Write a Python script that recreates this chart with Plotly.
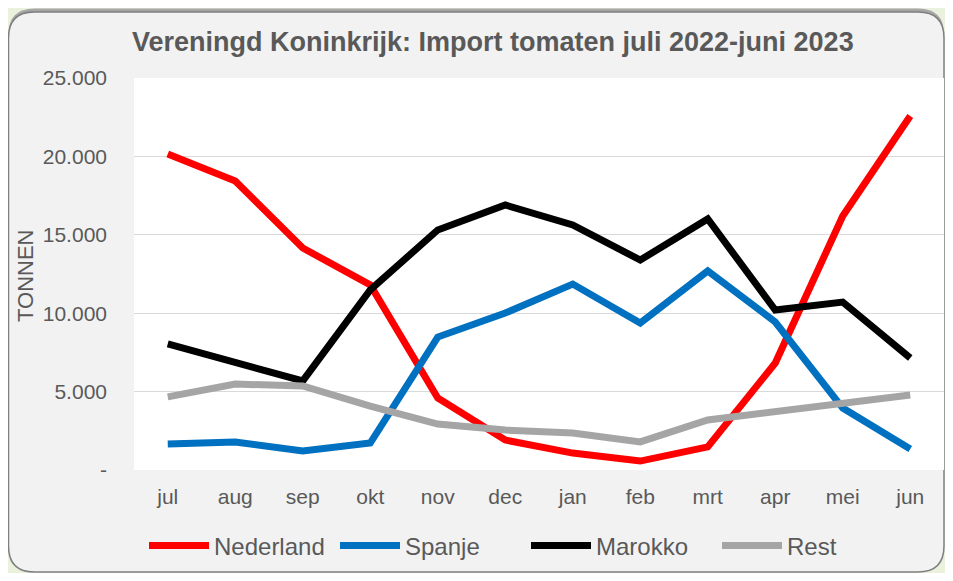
import plotly.graph_objects as go

# maanden (juli 2022 - juni 2023)
maanden = ["jul", "aug", "sep", "okt", "nov", "dec", "jan", "feb", "mrt", "apr", "mei", "jun"]

# import in tonnen
nederland = [20150, 18430, 14160, 11800, 4590, 1910, 1080, 570, 1470, 6820, 16200, 22580]
spanje = [1660, 1790, 1210, 1720, 8480, 10010, 11860, 9370, 12690, 9440, 3950, 1340]
marokko = [8040, 6890, 5680, 11480, 15310, 16900, 15630, 13390, 16010, 10200, 10710, 7140]
rest = [4660, 5480, 5360, 4080, 2930, 2550, 2360, 1790, 3190, 3700, 4210, 4780]

y_ticks = [0, 5000, 10000, 15000, 20000, 25000]
y_ticktext = ["-", "5.000", "10.000", "15.000", "20.000", "25.000"]

# figuur past binnen het venster naast de 8px body-marge van de pagina
W, H = 937, 565
L, R, T, B = 126, 1, 70, 103
PW, PH = W - L - R, H - T - B

FONT = "Liberation Sans, Arial, sans-serif"
GRIJS = "#595959"


def px(x):
    return (x - L) / PW


def py(y):
    return (H - B - y) / PH


def rounded_rect(x0, y0, x1, y1, r):
    # pad in paper-coordinaten met afgeronde hoeken (r in pixels)
    rx, ry = r / PW, r / PH
    a0, a1 = px(x0), px(x1)
    b0, b1 = py(y1), py(y0)  # b0 onder, b1 boven
    return (f"M {a0 + rx},{b1} L {a1 - rx},{b1} Q {a1},{b1} {a1},{b1 - ry} "
            f"L {a1},{b0 + ry} Q {a1},{b0} {a1 - rx},{b0} "
            f"L {a0 + rx},{b0} Q {a0},{b0} {a0},{b0 + ry} "
            f"L {a0},{b1 - ry} Q {a0},{b1} {a0 + rx},{b1} Z")


fig = go.Figure()

series = [
    ("Nederland", nederland, "#FF0000"),
    ("Spanje", spanje, "#0070C0"),
    ("Marokko", marokko, "#000000"),
    ("Rest", rest, "#A5A5A5"),
]
for naam, waarden, kleur in series:
    fig.add_trace(go.Scatter(x=maanden, y=waarden, name=naam, mode="lines",
                             line=dict(color=kleur, width=7)))

shapes = [
    # schaduw bovenrand
    dict(type="path", xref="paper", yref="paper", layer="below",
         path=rounded_rect(0.5, 0.5, 936, 564, 26),
         fillcolor="#A6A6A6", line=dict(width=0)),
    # kaart
    dict(type="path", xref="paper", yref="paper", layer="below",
         path=rounded_rect(0.5, 4, 936, 564, 26),
         fillcolor="#F2F2F2", line=dict(color="#7F7F7F", width=1.5)),
    # witte plotachtergrond
    dict(type="rect", xref="paper", yref="paper", layer="below",
         x0=0, x1=1, y0=0, y1=1, fillcolor="#FFFFFF", line=dict(width=0)),
]

annotations = [
    dict(text="<b>Vereningd Koninkrijk: Import tomaten juli 2022-juni 2023</b>",
         xref="paper", yref="paper", x=px(485), y=py(34), showarrow=False,
         xanchor="center", yanchor="middle", font=dict(size=27, color=GRIJS, family=FONT)),
    dict(text="TONNEN", textangle=-90, xref="paper", yref="paper", x=px(17), y=py(267),
         showarrow=False, xanchor="center", yanchor="middle",
         font=dict(size=22, color=GRIJS, family=FONT)),
]

fig.update_layout(
    width=W, height=H,
    margin=dict(l=L, r=R, t=T, b=B, pad=0),
    paper_bgcolor="#EAF1DD",
    plot_bgcolor="#FFFFFF",
    font=dict(family=FONT, color=GRIJS, size=21),
    shapes=shapes,
    annotations=annotations,
    showlegend=True,
    legend=dict(orientation="h", x=px(136), y=py(538), xanchor="left", yanchor="middle",
                font=dict(size=24, color=GRIJS, family=FONT), bgcolor="rgba(0,0,0,0)",
                itemwidth=60, tracegroupgap=0, entrywidth=116, entrywidthmode="pixels"),
    xaxis=dict(showgrid=False, showline=False, ticks="", ticklabelstandoff=12,
               range=[-0.5, 11.5], tickfont=dict(size=21, color=GRIJS)),
    yaxis=dict(range=[0, 25000], tickvals=y_ticks, ticktext=y_ticktext,
               showgrid=True, gridcolor="#D9D9D9", gridwidth=1.3, zeroline=False,
               showline=False, ticks="", ticklabelstandoff=26,
               tickfont=dict(size=21, color=GRIJS)),
)

fig.write_html("out.html")
